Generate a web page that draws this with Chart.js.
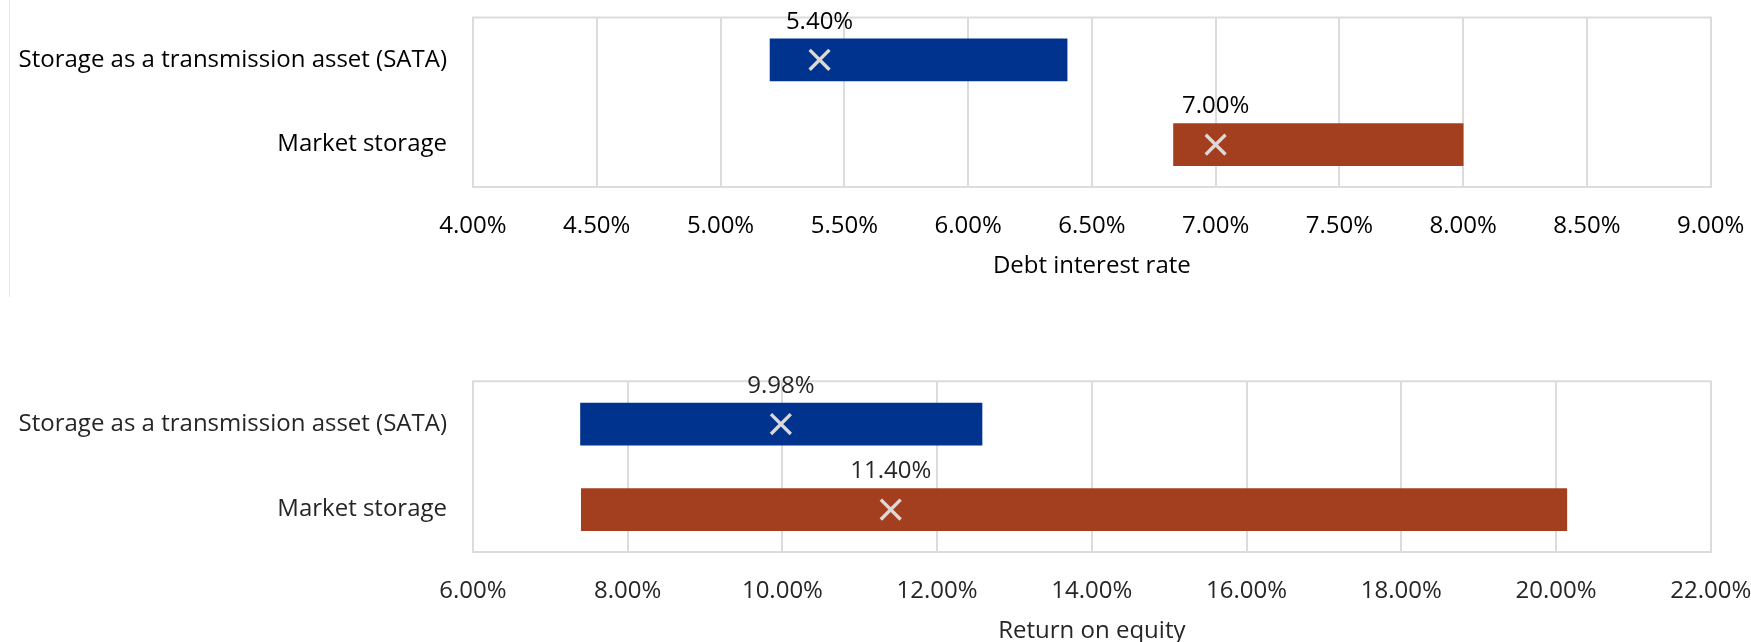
<!DOCTYPE html>
<html>
<head>
<meta charset="utf-8">
<script src="https://cdn.jsdelivr.net/npm/chart.js@4.4.1/dist/chart.umd.min.js"></script>
<style>
  html, body { margin: 0; padding: 0; background: #ffffff; }
  #wrap { position: relative; width: 1751px; height: 642px; overflow: hidden; background: #fff; }
  #c1 { position: absolute; left: 0; top: 0; }
  #c2 { position: absolute; left: 0; top: 330px; }
  #edge { position: absolute; left: 9px; top: 0; width: 1px; height: 297px; background: #e8e8e8; }
</style>
</head>
<body>
<div id="wrap">
  <div id="edge"></div>
  <canvas id="c1" width="1751" height="300"></canvas>
  <canvas id="c2" width="1751" height="316"></canvas>
</div>
<script>
// ---------- data ----------
const categories = ['Storage as a transmission asset (SATA)', 'Market storage'];

const debtLow   = [5.20, 6.83];
const debtHigh  = [6.40, 8.00];
const debtPoint = [5.40, 7.00];
const debtTicks = [4.00, 4.50, 5.00, 5.50, 6.00, 6.50, 7.00, 7.50, 8.00, 8.50, 9.00];
const debtTitle = 'Debt interest rate';

const roeLow   = [7.39, 7.40];
const roeHigh  = [12.58, 20.14];
const roePoint = [9.98, 11.40];
const roeTicks = [6.00, 8.00, 10.00, 12.00, 14.00, 16.00, 18.00, 20.00, 22.00];
const roeTitle = 'Return on equity';

const barColors = ['#00338D', '#A33F1F'];
const markerColor = '#D9D9D9';
const gridColor = '#DCDCDC';
const FONT = "'Open Sans', 'Noto Sans', sans-serif";
const FSIZE = 24;

// ---------- plugins ----------
const topBorder = {
  id: 'topBorder',
  beforeDatasetsDraw(chart) {
    const {ctx, chartArea} = chart;
    ctx.save();
    ctx.strokeStyle = gridColor;
    ctx.lineWidth = 2;
    ctx.beginPath();
    ctx.moveTo(chartArea.left - 1, chartArea.top);
    ctx.lineTo(chartArea.right + 1, chartArea.top);
    ctx.stroke();
    ctx.restore();
  }
};

const pointLabels = {
  id: 'pointLabels',
  afterDatasetsDraw(chart, args, opts) {
    const {ctx} = chart;
    const meta = chart.getDatasetMeta(1);
    const ds = chart.data.datasets[1];
    ctx.save();
    ctx.font = FSIZE + 'px ' + FONT;
    ctx.fillStyle = opts.color;
    ctx.textAlign = 'center';
    ctx.textBaseline = 'middle';
    meta.data.forEach((el, i) => {
      const v = ds.data[i].x;
      ctx.fillText(v.toFixed(2) + '%', el.x, el.y - 38);
    });
    ctx.restore();
  }
};

function makeChart(canvasId, low, high, point, ticks, title, padTop, padBottom, textColor) {
  const ctx = document.getElementById(canvasId);
  return new Chart(ctx, {
    data: {
      labels: categories,
      datasets: [
        {
          type: 'bar',
          data: categories.map((c, i) => [low[i], high[i]]),
          backgroundColor: barColors,
          borderWidth: 0,
          barThickness: 42,
          order: 2
        },
        {
          type: 'scatter',
          data: categories.map((c, i) => ({x: point[i], y: c})),
          pointStyle: 'crossRot',
          pointRadius: 14,
          pointBorderWidth: 3.4,
          borderColor: markerColor,
          pointBorderColor: markerColor,
          backgroundColor: markerColor,
          order: 1
        }
      ]
    },
    options: {
      indexAxis: 'y',
      responsive: false,
      animation: false,
      devicePixelRatio: 1,
      layout: { padding: { left: 0, right: 40.3, top: padTop, bottom: padBottom } },
      plugins: {
        legend: { display: false },
        tooltip: { enabled: false },
        pointLabels: { color: textColor }
      },
      scales: {
        x: {
          type: 'linear',
          position: 'bottom',
          min: ticks[0],
          max: ticks[ticks.length - 1],
          afterBuildTicks: (s) => { s.ticks = ticks.map(v => ({value: v})); },
          afterFit: (s) => { s.height = 93.7; s.paddingLeft = 0; s.paddingRight = 0; },
          grid: { color: gridColor, lineWidth: 2, drawTicks: false },
          border: { display: true, color: gridColor, width: 2 },
          ticks: {
            padding: 24.9,
            color: textColor,
            font: { family: FONT, size: FSIZE, lineHeight: 1.2 },
            callback: (v) => Number(v).toFixed(2) + '%',
            maxRotation: 0,
            autoSkip: false
          },
          title: {
            display: true,
            text: title,
            color: textColor,
            padding: 0,
            font: { family: FONT, size: FSIZE, lineHeight: 1.2 }
          }
        },
        y: {
          type: 'category',
          afterFit: (s) => { s.width = 473; s.paddingTop = 0; s.paddingBottom = 0; },
          grid: { display: false, drawTicks: false },
          border: { display: false },
          ticks: {
            padding: 26,
            color: textColor,
            font: { family: FONT, size: FSIZE, lineHeight: 1.2 }
          }
        }
      }
    },
    plugins: [topBorder, pointLabels]
  });
}

makeChart('c1', debtLow, debtHigh, debtPoint, debtTicks, debtTitle, 15, 19.3, '#000000');
makeChart('c2', roeLow, roeHigh, roePoint, roeTicks, roeTitle, 51.3, 0, '#262626');
</script>
</body>
</html>
